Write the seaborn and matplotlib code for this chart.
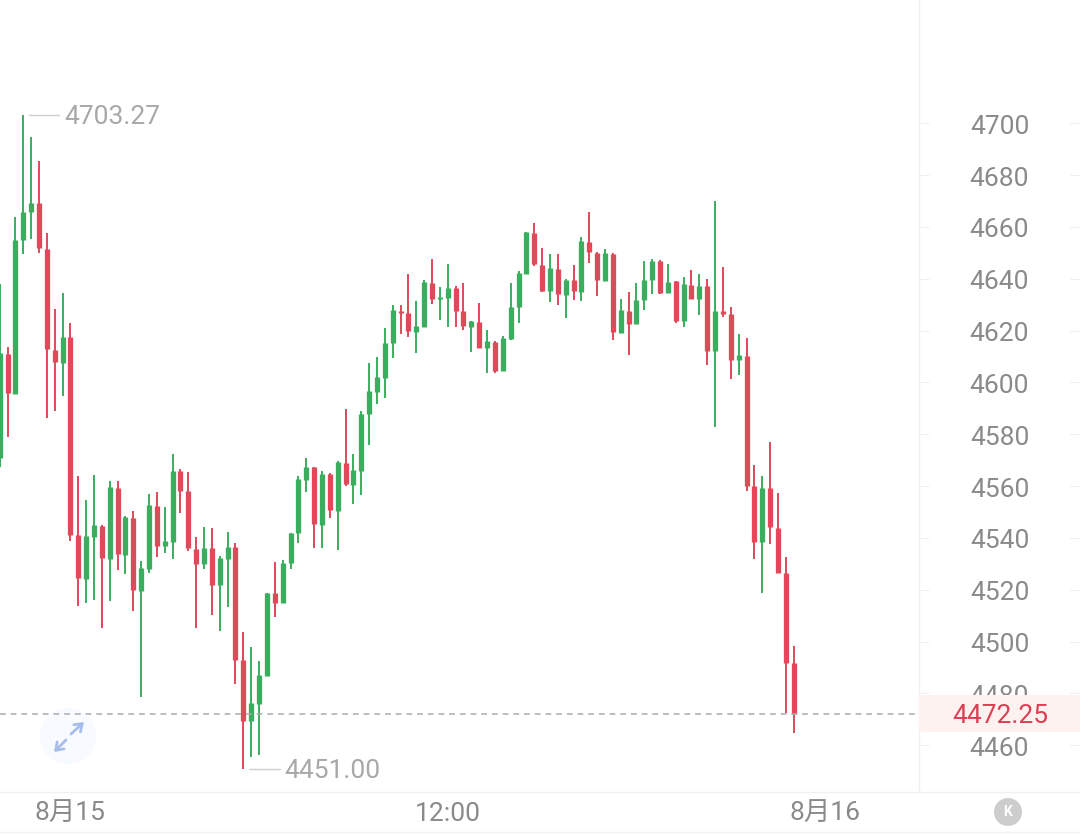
import pandas as pd
import seaborn as sns
import matplotlib.pyplot as plt
from matplotlib.patches import Circle
from matplotlib.lines import Line2D
from matplotlib.transforms import IdentityTransform, Affine2D

# candle values
opens = [4570.8, 4610.9, 4595.5, 4654.9, 4665.7, 4669.2, 4651.6, 4612.5, 4607.6, 4617.5,
         4541.1, 4524.1, 4540.5, 4544.7, 4532.0, 4559.3, 4533.5, 4547.7, 4519.6, 4528.1,
         4552.3, 4536.9, 4538.5, 4565.9, 4558.1, 4535.8, 4529.9, 4536.1, 4521.8, 4531.8,
         4536.5, 4492.9, 4469.3, 4475.9, 4486.7, 4518.7, 4514.9, 4530.3, 4541.9, 4562.3,
         4567.3, 4545.0, 4564.6, 4550.5, 4569.0, 4560.5, 4565.8, 4587.8, 4596.4, 4601.8,
         4615.2, 4627.5, 4626.7, 4619.5, 4621.5, 4638.3, 4632.1, 4632.5, 4636.4, 4627.5,
         4621.5, 4623.3, 4613.2, 4615.7, 4604.4, 4616.7, 4629.1, 4641.8, 4657.7, 4645.4,
         4635.2, 4643.8, 4633.7, 4639.5, 4635.0, 4654.1, 4650.0, 4639.2, 4649.5, 4619.1,
         4627.5, 4622.5, 4631.8, 4639.5, 4646.8, 4634.6, 4639.1, 4623.8, 4637.5, 4632.3,
         4637.2, 4612.1, 4627.5, 4626.4, 4608.6, 4610.2, 4560.0, 4538.5, 4559.2, 4543.9,
         4526.4, 4491.7]
closes = [4611.3, 4595.9, 4654.9, 4665.8, 4669.3, 4651.8, 4612.9, 4607.8, 4617.6, 4541.1,
          4524.5, 4540.7, 4545.0, 4532.2, 4559.6, 4533.8, 4548.0, 4519.9, 4528.4, 4552.7,
          4537.0, 4538.8, 4565.9, 4558.1, 4536.1, 4530.0, 4536.1, 4521.9, 4532.2, 4536.5,
          4492.9, 4469.5, 4476.3, 4487.2, 4518.7, 4514.9, 4530.4, 4541.9, 4562.7, 4567.5,
          4545.3, 4564.6, 4550.7, 4569.4, 4560.8, 4566.2, 4587.8, 4596.7, 4602.1, 4615.3,
          4627.9, 4626.9, 4619.8, 4621.7, 4638.7, 4632.1, 4632.9, 4636.4, 4627.5, 4621.7,
          4623.6, 4613.2, 4615.9, 4604.4, 4617.1, 4629.2, 4642.2, 4658.0, 4645.6, 4635.3,
          4644.1, 4634.1, 4639.5, 4635.2, 4654.5, 4650.3, 4639.5, 4649.9, 4619.4, 4627.9,
          4622.6, 4631.9, 4639.6, 4646.8, 4634.6, 4638.8, 4623.8, 4637.9, 4632.3, 4637.2,
          4612.2, 4627.6, 4626.4, 4608.7, 4610.5, 4560.0, 4538.4, 4559.2, 4544.2, 4526.4,
          4491.7, 4472.25]
highs = [4637.9, 4613.7, 4663.8, 4703.27, 4694.8, 4685.4, 4657.6, 4628.3, 4634.6, 4623.0,
         4564.0, 4554.6, 4564.4, 4545.0, 4562.0, 4561.9, 4548.4, 4550.5, 4531.2, 4556.9,
         4557.7, 4551.9, 4572.3, 4566.6, 4565.4, 4540.5, 4544.3, 4543.9, 4533.1, 4542.4,
         4538.0, 4503.7, 4497.9, 4492.6, 4518.7, 4530.7, 4531.5, 4541.9, 4563.9, 4570.8,
         4567.3, 4565.9, 4565.0, 4569.8, 4589.7, 4572.3, 4588.9, 4607.5, 4609.8, 4621.0,
         4629.8, 4629.8, 4641.8, 4631.4, 4639.5, 4647.7, 4636.8, 4645.6, 4637.2, 4638.4,
         4623.7, 4630.7, 4620.2, 4615.9, 4618.0, 4638.4, 4642.9, 4658.0, 4661.5, 4651.9,
         4649.6, 4649.5, 4639.9, 4645.3, 4656.1, 4665.7, 4650.3, 4651.4, 4649.9, 4632.1,
         4635.0, 4638.3, 4646.9, 4647.6, 4647.2, 4645.8, 4639.2, 4640.6, 4643.3, 4641.8,
         4639.9, 4670.0, 4644.6, 4629.2, 4618.6, 4617.2, 4568.2, 4563.9, 4577.0, 4557.4,
         4532.6, 4498.3]
lows = [4567.3, 4578.9, 4595.5, 4649.5, 4655.3, 4650.0, 4586.2, 4588.9, 4594.8, 4538.9,
        4513.8, 4515.0, 4516.0, 4505.2, 4515.6, 4527.6, 4526.1, 4511.9, 4478.7, 4526.4,
        4532.7, 4534.2, 4532.0, 4549.6, 4534.9, 4505.2, 4528.0, 4510.2, 4504.2, 4513.3,
        4483.6, 4451.0, 4455.6, 4456.2, 4486.7, 4509.5, 4514.9, 4528.0, 4538.0, 4557.8,
        4536.2, 4536.2, 4547.7, 4535.3, 4560.0, 4553.1, 4556.5, 4575.8, 4591.6, 4594.0,
        4609.4, 4618.6, 4617.5, 4611.3, 4621.5, 4630.2, 4624.0, 4621.5, 4621.5, 4620.2,
        4611.8, 4613.2, 4603.6, 4603.6, 4604.4, 4616.3, 4622.9, 4641.8, 4645.0, 4635.0,
        4631.1, 4629.9, 4624.8, 4631.9, 4631.4, 4646.2, 4633.4, 4639.2, 4616.3, 4619.1,
        4610.7, 4622.5, 4627.9, 4634.1, 4634.1, 4634.6, 4623.0, 4621.3, 4632.3, 4626.0,
        4606.8, 4582.9, 4625.2, 4601.3, 4602.8, 4558.2, 4532.0, 4518.7, 4537.6, 4526.4,
        4472.4, 4464.8]
candle_idx = list(range(len(opens)))

y_ticks = [4460, 4480, 4500, 4520, 4540, 4560, 4580, 4600, 4620, 4640, 4660, 4680, 4700]
x_ticks = [9, 57, 105]
x_labels = ['8月15', '12:00', '8月16']
last_price = 4472.25

RED = '#DE4A5A'
GREEN = '#3AAD5E'
GREY_TEXT = '#8A8A8A'
FAINT = '#F0F0F0'
FONT_SIZE = 19

sns.set_style('white')
plt.rcParams['font.family'] = ['Roboto', 'Noto Sans CJK SC', 'DejaVu Sans']

# long tables for the wicks and the bodies
wick_rows = []
body_rows = []
for i in candle_idx:
    side = 'up' if closes[i] >= opens[i] else 'down'
    wick_rows.append({'idx': i, 'price': lows[i], 'side': side})
    wick_rows.append({'idx': i, 'price': highs[i], 'side': side})
    body_rows.append({'idx': i, 'price': opens[i], 'side': side})
    body_rows.append({'idx': i, 'price': closes[i], 'side': side})
wicks = pd.DataFrame(wick_rows)
bodies = pd.DataFrame(body_rows)
palette = {'up': GREEN, 'down': RED}

fig = plt.figure(figsize=(10.8, 8.36), dpi=100)
ax = fig.add_axes([0, 1 - 792 / 836, 919 / 1080, 792 / 836])
ax.set_facecolor('none')

sns.lineplot(data=wicks, x='idx', y='price', hue='side', units='idx', estimator=None,
             palette=palette, linewidth=1.4, sort=False, legend=False, ax=ax,
             solid_capstyle='butt')
sns.lineplot(data=bodies, x='idx', y='price', hue='side', units='idx', estimator=None,
             palette=palette, linewidth=3.8, sort=False, legend=False, ax=ax,
             solid_capstyle='butt')

ax.set_xlim(0.046, 116.94)
ax.set_ylim(4441.99, 4747.54)
ax.set_xlabel('')
ax.set_ylabel('')

# last price line and box
ax.axhline(last_price, color='#ABABAB', linewidth=1.1, dashes=(3.8, 3.2), zorder=4)
ax.axhspan(last_price - 7, last_price + 7, xmin=1, xmax=1080 / 919, color='#FDF2F0',
           linewidth=0, clip_on=False, zorder=5)
ax.text(1000 / 919, last_price, '4472.25', transform=ax.get_yaxis_transform(), color='#DC3F54',
        fontsize=FONT_SIZE, ha='center', va='center_baseline', zorder=6, clip_on=False)

# high and low labels
for i, value, label in [(highs.index(max(highs)), max(highs), '4703.27'),
                        (lows.index(min(lows)), min(lows), '4451.00')]:
    ax.plot([i + 0.75, i + 4.6], [value, value], color='#CFCFCF', linewidth=1.0)
    ax.text(i + 5.25, value, label, color='#A8A8A8', fontsize=FONT_SIZE, ha='left',
            va='center_baseline')

# axes look
sns.despine(ax=ax, top=True, left=True, right=False, bottom=False)
for side in ['right', 'bottom']:
    ax.spines[side].set_color(FAINT)
    ax.spines[side].set_linewidth(1.0)
ax.spines['bottom'].set_bounds(0.046, 116.94)

ax.yaxis.tick_right()
ax.set_yticks(y_ticks)
ax.tick_params(axis='y', length=7, width=0.8, color=FAINT, pad=51, labelsize=FONT_SIZE,
               labelcolor=GREY_TEXT, right=True, left=False)
for lab in ax.get_yticklabels():
    lab.set_ha('center')
    lab.set_transform(lab.get_transform() + Affine2D().translate(0, -1))
ax.set_xticks(x_ticks)
ax.set_xticklabels(x_labels)
ax.tick_params(axis='x', length=0, pad=7, labelsize=FONT_SIZE, labelcolor=GREY_TEXT)

# short ticks on the right edge
for t in y_ticks:
    ax.plot([1070 / 919, 1080 / 919], [t, t], transform=ax.get_yaxis_transform(), color=FAINT,
            linewidth=0.8, clip_on=False)

# lines under the plot, carried on under the price axis
fig.add_artist(Line2D([919 / 1080, 1], [1 - 792 / 836, 1 - 792 / 836], color=FAINT, linewidth=1.0))
fig.add_artist(Line2D([0, 1], [1 - 832 / 836, 1 - 832 / 836], color='#F3F3F3', linewidth=1.0))

# expand button
px = IdentityTransform()
fig.add_artist(Circle((68, 836 - 736), 28, transform=px, facecolor='#F7FAFF', edgecolor='none',
                      zorder=-1))
for tail, head in [((71, 734), (84, 722)), ((66, 740), (54, 752))]:
    ax.annotate('', xy=(head[0], 836 - head[1]), xytext=(tail[0], 836 - tail[1]),
                xycoords='figure pixels', textcoords='figure pixels',
                arrowprops=dict(arrowstyle='->,head_length=0.5,head_width=0.35', color='#A9BDEA',
                                linewidth=2.0, shrinkA=0, shrinkB=0))

# back to latest button
fig.add_artist(Circle((1008, 836 - 812), 14, transform=px, facecolor='#CDCDCD', edgecolor='none'))
fig.text(1008 / 1080, 1 - 812 / 836, 'K', color='white', fontsize=10, fontweight='bold',
         ha='center', va='center')

fig.savefig('out.png', dpi=100)
plt.close(fig)
